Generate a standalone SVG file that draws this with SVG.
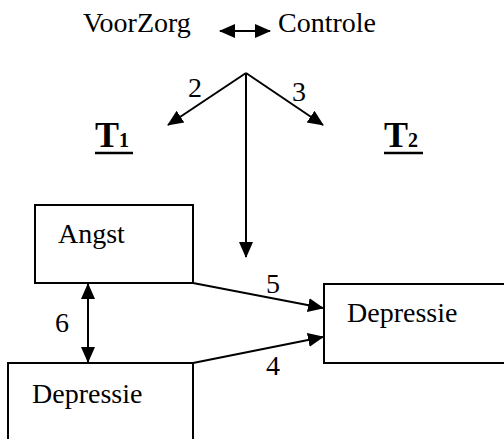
<svg xmlns="http://www.w3.org/2000/svg" width="504" height="439" viewBox="0 0 504 439">
<style>
text{font-family:'Liberation Serif','Times New Roman',serif;font-size:28px;fill:#000}
.box{fill:#fff;stroke:#000;stroke-width:2}
.c{stroke:#000;stroke-width:2;fill:none}
.t{font-weight:bold;font-size:36px}
.sub{font-size:20px}
</style>
<defs>
<marker id="ah" markerUnits="userSpaceOnUse" markerWidth="16" markerHeight="16" refX="15" refY="7" orient="auto-start-reverse" viewBox="0 0 16 14">
<path d="M0,0 L16,7 L0,14 z" fill="#000"/>
</marker>
</defs>
<g id="header">
<text x="83" y="32">VoorZorg</text>
<text x="278" y="32">Controle</text>
</g>
<g id="t1"><text class="t" x="95" y="147">T<tspan class="sub">1</tspan></text><line x1="95" y1="153" x2="133" y2="153" stroke="#000" stroke-width="2.5"/></g>
<g id="t2"><text class="t" x="384" y="147">T<tspan class="sub">2</tspan></text><line x1="384" y1="153" x2="423" y2="153" stroke="#000" stroke-width="2.5"/></g>
<g id="angst"><rect class="box" x="35" y="205" width="158" height="78"/><text x="58" y="243">Angst</text></g>
<g id="dep-t2"><rect class="box" x="324" y="284" width="190" height="79"/><text x="347" y="322">Depressie</text></g>
<g id="dep-t1"><rect class="box" x="8" y="363" width="185" height="90"/><text x="32" y="403">Depressie</text></g>
<g id="connectors">
<line class="c" x1="220" y1="31" x2="270" y2="31" marker-start="url(#ah)" marker-end="url(#ah)"/>
<line class="c" x1="246" y1="73" x2="168" y2="125" marker-end="url(#ah)"/>
<line class="c" x1="246" y1="73" x2="323" y2="125" marker-end="url(#ah)"/>
<line class="c" x1="246" y1="73" x2="246" y2="257" marker-end="url(#ah)"/>
<line class="c" x1="193" y1="283" x2="323" y2="308" marker-end="url(#ah)"/>
<line class="c" x1="193" y1="363" x2="323" y2="337" marker-end="url(#ah)"/>
<line class="c" x1="88" y1="284" x2="88" y2="362" marker-start="url(#ah)" marker-end="url(#ah)"/>
<text x="188" y="97">2</text>
<text x="292" y="101">3</text>
<text x="266" y="293">5</text>
<text x="266" y="375">4</text>
<text x="55" y="332">6</text>
</g>
</svg>
